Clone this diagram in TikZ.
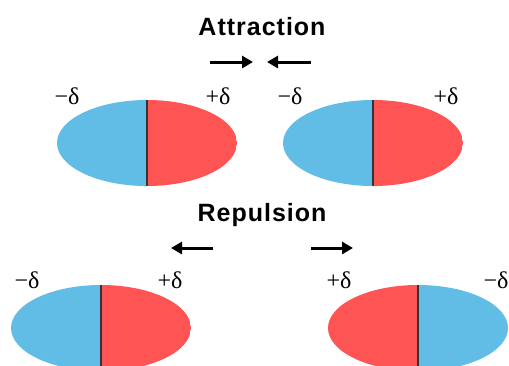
\documentclass[tikz,border=0pt]{standalone}
\usepackage{fontspec}
\setmainfont{Liberation Serif}
\newfontfamily\headfont[LetterSpace=4]{Liberation Sans}
\usetikzlibrary{arrows.meta}
\definecolor{negblue}{RGB}{98,189,230}
\definecolor{posred}{RGB}{255,84,84}
\tikzset{
  heading/.style={font=\headfont\bfseries\fontsize{25}{30}\selectfont, inner sep=0pt, anchor=base},
  charge/.style={font=\fontsize{24}{28}\selectfont, inner sep=0pt, anchor=base},
  force/.style={-{Triangle[length=11pt,width=12pt]}, line width=3pt},
  divider/.style={line width=1.3pt, draw=black!80}
}
% one molecule: centre, left colour, right colour
\newcommand{\dipole}[3]{%
  \begin{scope}[shift={(#1)}]
    \clip (0,0) ellipse [x radius=90, y radius=43];
    \fill[#2] (-90,-43) rectangle (0,43);
    \fill[#3] (0,-43) rectangle (90,43);
    \draw[divider] (0,-43) -- (0,43);
  \end{scope}}

\begin{document}
\begin{tikzpicture}[x=1pt, y=-1pt]
\useasboundingbox (0,0) rectangle (509,365);

% attraction
\node[heading] (attr) at (262,35) {Attraction};
\coordinate (a1s) at (210,62);
\coordinate (a1e) at (253,62);
\coordinate (a2s) at (311,62);
\coordinate (a2e) at (267,62);
\draw[force] (a1s) -- (a1e);
\draw[force] (a2s) -- (a2e);

\coordinate (m1) at (147,143);
\coordinate (m2) at (373,143);
\dipole{m1}{negblue}{posred}
\dipole{m2}{negblue}{posred}
\node[charge] (m1neg) at (67,104) {−δ};
\node[charge] (m1pos) at (218,104) {+δ};
\node[charge] (m2neg) at (290,104) {−δ};
\node[charge] (m2pos) at (446,104) {+δ};

% repulsion
\node[heading] (rep) at (262,221) {Repulsion};
\coordinate (r1s) at (213,248);
\coordinate (r1e) at (171,248);
\coordinate (r2s) at (311,248);
\coordinate (r2e) at (353,248);
\draw[force] (r1s) -- (r1e);
\draw[force] (r2s) -- (r2e);

\coordinate (m3) at (101,328);
\coordinate (m4) at (418,328);
\dipole{m3}{negblue}{posred}
\dipole{m4}{posred}{negblue}
\node[charge] (m3neg) at (27,288) {−δ};
\node[charge] (m3pos) at (170,288) {+δ};
\node[charge] (m4pos) at (339,288) {+δ};
\node[charge] (m4neg) at (496,288) {−δ};
\end{tikzpicture}
\end{document}
